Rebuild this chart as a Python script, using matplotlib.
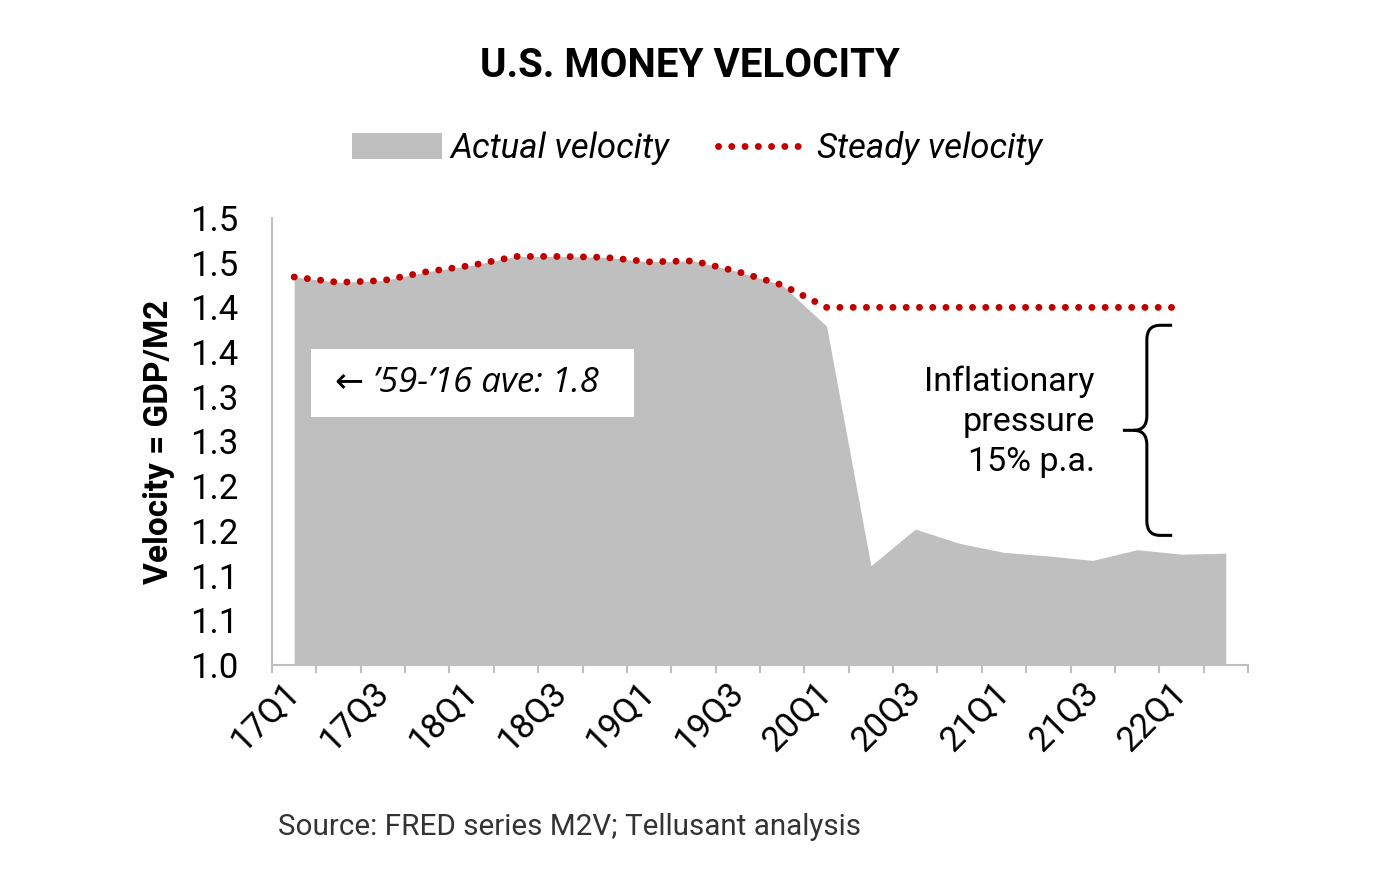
import matplotlib
matplotlib.use('Agg')
import matplotlib.pyplot as plt
import numpy as np
from matplotlib.patches import Patch, Rectangle, PathPatch
from matplotlib.lines import Line2D
from matplotlib.path import Path

quarters = ['17Q1', '17Q2', '17Q3', '17Q4', '18Q1', '18Q2', '18Q3', '18Q4',
            '19Q1', '19Q2', '19Q3', '19Q4', '20Q1', '20Q2', '20Q3', '20Q4',
            '21Q1', '21Q2', '21Q3', '21Q4', '22Q1', '22Q2']
actual_velocity = [1.434, 1.428, 1.430, 1.440, 1.447, 1.457, 1.457, 1.456,
                   1.451, 1.452, 1.440, 1.425, 1.379, 1.111, 1.152, 1.136,
                   1.126, 1.122, 1.117, 1.129, 1.124, 1.125]
steady_velocity = [1.434, 1.428, 1.430, 1.440, 1.447, 1.457, 1.457, 1.456,
                   1.451, 1.452, 1.440, 1.425, 1.400, 1.400, 1.400, 1.400,
                   1.400, 1.400, 1.400, 1.400, 1.400, np.nan]
ytick_values = [1.00, 1.05, 1.10, 1.15, 1.20, 1.25, 1.30, 1.35, 1.40, 1.45, 1.50]
ytick_labels = ['1.0', '1.1', '1.1', '1.2', '1.2', '1.3', '1.3', '1.4', '1.4', '1.5', '1.5']
xlabel_every = 2

GREY = '#BFBFBF'
RED = '#C00000'

plt.rcParams['font.family'] = ['Roboto', 'DejaVu Sans']

fig = plt.figure(figsize=(14, 8.85), dpi=100)
ax = fig.add_axes([272/1400, 1-665/885, (1248-272)/1400, (665-218)/885])

x = np.arange(len(quarters))
ax.fill_between(x, 1.0, actual_velocity, color=GREY, lw=0, zorder=1)
ax.plot(x, steady_velocity, color=RED, lw=5, linestyle=(0, (0.01, 1.9)),
        dash_capstyle='round', zorder=4)

ax.set_xlim(-0.5, len(quarters) - 0.5)
ax.set_ylim(1.0, 1.5)
ax.set_yticks(ytick_values)
ax.set_yticklabels(ytick_labels)
ax.tick_params(axis='y', length=0, pad=24, labelsize=25)

ax.set_xticks(x[::xlabel_every])
ax.set_xticklabels(quarters[::xlabel_every], rotation=45, ha='right',
                   va='center', rotation_mode='anchor')
ax.tick_params(axis='x', which='major', length=0, pad=16, labelsize=25)
ax.set_xticks(np.arange(-0.5, len(quarters)), minor=True)
ax.tick_params(axis='x', which='minor', length=6, width=1.5, color=GREY, direction='out')

for s in ['top', 'right']:
    ax.spines[s].set_visible(False)
for s in ['left', 'bottom']:
    ax.spines[s].set_color(GREY)
    ax.spines[s].set_linewidth(1.5)

ax.set_ylabel('Velocity = GDP/M2', fontsize=24, fontweight='bold')
ax.yaxis.set_label_coords(-0.099, 0.5)

# note box
ax.add_patch(Rectangle((0.38, 1.277), 7.28, 0.076, facecolor='white',
                       edgecolor='none', zorder=3))
ax.text(0.92, 1.315, '\u2190 \u201959-\u201916 ave: 1.8', fontsize=25,
        style='italic', va='center', ha='left', zorder=5,
        family=['Open Sans', 'DejaVu Sans'])

# annotation text
ax.text(18.05, 1.272, 'Inflationary\npressure\n15% p.a.', fontsize=24.5,
        ha='right', va='center', linespacing=1.32, zorder=5)

# curly brace
bx, tip_x, pt_x = 19.22, 19.79, 18.68
top, bot = 1.380, 1.145
mid = (top + bot) / 2
rx, ry = 0.3, 0.016
verts = [(tip_x, top), (bx + rx, top), (bx, top), (bx, top - ry),
         (bx, mid + ry), (bx, mid), (bx - rx, mid), (pt_x, mid),
         (bx - rx, mid), (bx, mid), (bx, mid - ry),
         (bx, bot + ry), (bx, bot), (bx + rx, bot), (tip_x, bot)]
codes = [Path.MOVETO, Path.LINETO, Path.CURVE3, Path.CURVE3,
         Path.LINETO, Path.CURVE3, Path.CURVE3, Path.LINETO,
         Path.MOVETO, Path.CURVE3, Path.CURVE3,
         Path.LINETO, Path.CURVE3, Path.CURVE3, Path.LINETO]
ax.add_patch(PathPatch(Path(verts, codes), facecolor='none', edgecolor='black',
                       lw=2.2, zorder=5, clip_on=False))

# title
fig.text(0.493, 1-66/885, 'U.S. MONEY VELOCITY', fontsize=29, fontweight='bold',
         ha='center', va='center')

# legend
handles = [Patch(facecolor=GREY, edgecolor='none'),
           Line2D([0], [0], color=RED, lw=5, linestyle=(0, (0.01, 1.9)),
                  dash_capstyle='round')]
fig.legend(handles, ['Actual velocity', 'Steady velocity'], loc='center',
           bbox_to_anchor=(0.498, 1-148/885), ncol=2, frameon=False,
           prop={'style': 'italic', 'size': 25}, handlelength=2.6,
           handleheight=0.75, handletextpad=0.25, columnspacing=1.4)

# source
fig.text(278/1400, 1-827/885, 'Source: FRED series M2V; Tellusant analysis',
         fontsize=21.3, fontweight='normal', color='#333333', ha='left', va='center')

fig.savefig('out.png', dpi=100, facecolor='white')
